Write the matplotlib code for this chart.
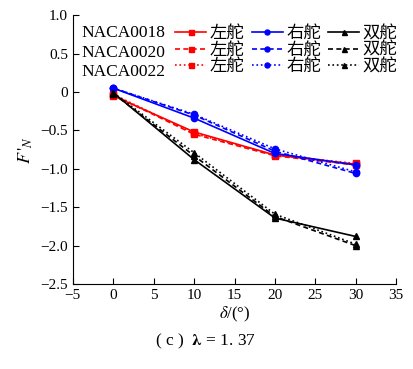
import matplotlib
matplotlib.use("Agg")
import matplotlib.pyplot as plt

plt.rcParams['font.family'] = ['Liberation Serif', 'Noto Sans CJK SC']
plt.rcParams['mathtext.fontset'] = 'stix'

delta = [0, 10, 20, 30]
foils = ["NACA0018", "NACA0020", "NACA0022"]
styles = ["-", (0, (3, 2)), ":"]
rudders = ["左舵", "右舵", "双舵"]
colors = ["red", "blue", "black"]
markers = ["s", "o", "^"]

# F'_N for each foil, one list per rudder case (left, right, twin)
left = [[-0.05, -0.52, -0.82, -0.94],
        [-0.04, -0.55, -0.83, -0.95],
        [-0.03, -0.54, -0.82, -0.93]]
right = [[0.05, -0.34, -0.80, -0.95],
         [0.05, -0.30, -0.77, -1.06],
         [0.05, -0.29, -0.74, -1.04]]
twin = [[-0.01, -0.88, -1.64, -1.88],
        [-0.02, -0.83, -1.62, -2.00],
        [-0.01, -0.79, -1.59, -1.98]]

fig = plt.figure(figsize=(4.14, 3.69), dpi=100)
ax = fig.add_axes([0.176, 0.230, 0.781, 0.729])

data = [left, right, twin]
handles = []
for k in range(3):
    for i in range(3):
        h, = ax.plot(delta, data[k][i], color=colors[k], ls=styles[i], marker=markers[k],
                     markersize=4.5, lw=1.2)
        handles.append(h)

ax.set_xlim(-5, 35)
ax.set_ylim(-2.5, 1.0)
ax.set_xticks(range(-5, 36, 5))
ax.set_yticks([1.0, 0.5, 0, -0.5, -1.0, -1.5, -2.0, -2.5])
ax.set_yticklabels(["1.0", "0.5", "0", "\u22120.5", "\u22121.0", "\u22121.5", "\u22122.0", "\u22122.5"])
ax.set_xticklabels(["\u22125", "0", "5", "10", "15", "20", "25", "30", "35"])
ax.tick_params(direction="in", labelsize=11, length=4)
ax.spines["top"].set_visible(False)
ax.spines["right"].set_visible(False)

ax.set_xlabel(r"$\delta$/(°)", fontsize=12, labelpad=2)
ax.set_ylabel(r"$F\,'_N$", fontsize=13, labelpad=4)

labels = [r for r in rudders for _ in range(3)]
leg = ax.legend(handles, labels, ncol=3, loc="upper left", bbox_to_anchor=(0.295, 0.985),
                frameon=False, fontsize=12.5, handlelength=1.8, handletextpad=0.2,
                columnspacing=0.4, labelspacing=0.02, borderaxespad=0, markerscale=0.8)
for j, name in enumerate(foils):
    ax.text(0.028, 0.933 - j * 0.072, name, transform=ax.transAxes, fontsize=12.5,
            va="center", ha="left")

fig.text(0.495, 0.075, r"( c )  $\boldsymbol{\lambda}$ = 1. 37", ha="center", va="center", fontsize=12.5)

fig.savefig("out.png", dpi=100)
